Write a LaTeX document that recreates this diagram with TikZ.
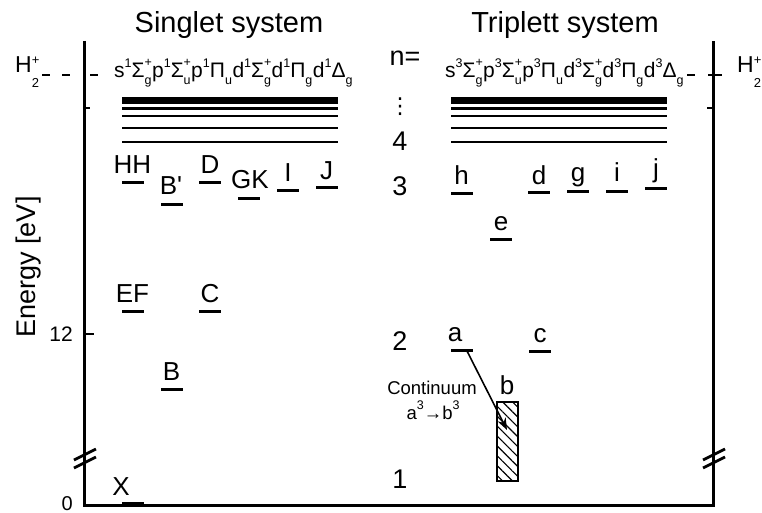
\documentclass[tikz,border=0pt]{standalone}
\usepackage{fontspec}
\setmainfont{Liberation Sans}
\newfontfamily\symfont{DejaVu Sans}
\usetikzlibrary{patterns.meta,arrows.meta,calc}

% stacked superscript / subscript of a term symbol
\newcommand\trm[2]{{\fontsize{12.5}{12.5}\selectfont\makebox[0.6em][l]{\rlap{\raisebox{11pt}{#1}}\raisebox{-7pt}{#2}}}}
% spin multiplicity
\newcommand\spn[1]{{\fontsize{12.5}{12.5}\selectfont\raisebox{10pt}{#1}}}
% molecular ion H2+
\newcommand\hion{H{\fontsize{13}{13}\selectfont\makebox[0.6em][l]{\rlap{\raisebox{8pt}{+}}\raisebox{-15pt}{2}}}}

\tikzset{
  axis/.style={line width=3pt},
  band/.style={line width=2.6pt},
  lvl/.style={fill=black, draw=none, minimum width=22pt, minimum height=3pt, inner sep=0pt},
  lab/.style={font=\fontsize{26}{26}\selectfont, inner sep=0pt, anchor=base},
  qn/.style={font=\fontsize{27}{27}\selectfont, inner sep=0pt, anchor=base},
  head/.style={font=\fontsize{29}{29}\selectfont, inner sep=0pt, anchor=base},
  term/.style={font=\fontsize{21}{21}\selectfont, inner sep=0pt, anchor=base west},
  small/.style={font=\fontsize{18.5}{18.5}\selectfont, inner sep=0pt, anchor=base},
}

\begin{document}
\begin{tikzpicture}[x=1pt,y=-1pt]
\useasboundingbox (0,0) rectangle (762,513);

% frame
\coordinate (tl) at (84,41);
\coordinate (bl) at (84,505);
\coordinate (br) at (713,505);
\coordinate (tr) at (713,41);
\draw[axis, line join=miter] (tl) -- (bl) -- (br) -- (tr);

% ticks
\draw[line width=2.5pt] (84,108) -- (90,108);
\draw[line width=2.5pt] (84,334) -- (94,334);
\draw[line width=2.5pt] (713,108) -- (707,108);

% axis breaks
\draw[line width=2.8pt] (74,460) -- (96,449);
\draw[line width=2.8pt] (74,468) -- (96,457);
\draw[line width=2.8pt] (703,460) -- (725,449);
\draw[line width=2.8pt] (703,468) -- (725,457);

% ionisation limit
\node[anchor=base west, inner sep=0pt, font=\fontsize{23}{23}\selectfont] (ionl) at (15,73) {\hion};
\node[anchor=base west, inner sep=0pt, font=\fontsize{23}{23}\selectfont] (ionr) at (737,73) {\hion};
\draw[line width=2.5pt] (42,75) -- (50,75);
\draw[line width=2.5pt] (62,75) -- (70,75);
\draw[line width=2.5pt] (90,75) -- (98,75);
\draw[line width=2.5pt] (687,75) -- (695,75);
\draw[line width=2.5pt] (708,75) -- (722,75);

% axis labels
\node[font=\fontsize{27}{27}\selectfont, rotate=90, inner sep=0pt] (ylab) at (29,267) {Energy [eV]};
\node[font=\fontsize{21}{21}\selectfont, inner sep=0pt, anchor=east] (t12) at (73,334) {12};
\node[font=\fontsize{20}{20}\selectfont, inner sep=0pt, anchor=base east] (t0) at (73,510) {0};

% headings
\node[head] (hs) at (229,33) {Singlet system};
\node[head] (ht) at (565,33) {Triplett system};

% Rydberg series
\node[term] (ts) at (114,78) {s\spn{1}Σ\trm{+}{g}p\spn{1}Σ\trm{+}{u}p\spn{1}Π\trm{}{u}d\spn{1}Σ\trm{+}{g}d\spn{1}Π\trm{}{g}d\spn{1}Δ\trm{}{g}};
\node[term] (tt) at (445,78) {s\spn{3}Σ\trm{+}{g}p\spn{3}Σ\trm{+}{u}p\spn{3}Π\trm{}{u}d\spn{3}Σ\trm{+}{g}d\spn{3}Π\trm{}{g}d\spn{3}Δ\trm{}{g}};

% high-n bands
\foreach \xa/\xb in {122/338, 451/667}{
  \fill (\xa,97.5) rectangle (\xb,104.5);
  \draw[line width=2.2pt] (\xa,108.5) -- (\xb,108.5);
  \draw[band] (\xa,116) -- (\xb,116);
  \draw[band] (\xa,128) -- (\xb,128);
  \draw[band] (\xa,142) -- (\xb,142);
}

% principal quantum numbers
\node[qn] (nq) at (405,66) {n=};
\node[inner sep=0pt, font=\symfont\fontsize{22}{22}\selectfont] (ndots) at (400,107) {⋮};
\node[qn] (n4) at (400,151) {4};
\node[qn] (n3) at (400,195) {3};
\node[qn] (n2) at (400,350) {2};
\node[qn] (n1) at (400,488) {1};

% singlet levels
\node[lvl] (HH) at (132.5,182) {};  \node[lab] (HHl) at (132.5,173) {HH};
\node[lvl] (Bp) at (171.5,204) {};  \node[lab] (Bpl) at (171,194) {B\textquotesingle};
\node[lvl] (D)  at (210,182) {};    \node[lab] (Dl)  at (210,173) {D};
\node[lvl] (GK) at (248.5,198) {};  \node[lab] (GKl) at (250,189) {GK};
\node[lvl] (I)  at (288,190) {};    \node[lab] (Il)  at (288,182) {I};
\node[lvl] (J)  at (326.5,187) {};  \node[lab] (Jl)  at (326.5,179) {J};
\node[lvl] (EF) at (132.5,311) {};  \node[lab] (EFl) at (132.5,302) {EF};
\node[lvl] (C)  at (210,311) {};    \node[lab] (Cl)  at (210,302) {C};
\node[lvl] (B)  at (171.5,389) {};  \node[lab] (Bl)  at (171.5,380) {B};
\node[lvl] (X)  at (132.5,503) {};  \node[lab] (Xl)  at (121,495) {X};

% triplet levels
\node[lvl] (h) at (461.5,193) {};   \node[lab] (hl) at (461.5,185) {h};
\node[lvl] (e) at (501,239) {};     \node[lab] (el) at (501,230) {e};
\node[lvl] (d) at (539,192) {};     \node[lab] (dl) at (539,184) {d};
\node[lvl] (g) at (578,191) {};     \node[lab] (gl) at (578,182) {g};
\node[lvl] (i) at (617,191) {};     \node[lab] (il) at (617,182) {i};
\node[lvl] (j) at (656,188) {};     \node[lab] (jl) at (656,178) {j};
\node[lvl] (a) at (462,350) {};     \node[lab] (al) at (455,341) {a};
\node[lvl] (c) at (540,351) {};     \node[lab] (cl) at (540,342) {c};

% repulsive b state continuum
\node[draw, line width=2.2pt, minimum width=21pt, minimum height=79pt, inner sep=0pt,
      pattern={Lines[angle=-45,distance=7pt,line width=1.1pt]}] (b) at (507.5,441.5) {};
\node[lab] (bl) at (507,394) {b};
\node[small] (cont) at (432,394) {Continuum};
\node[small] (trans) at (433,419) {a\spn{3}→b\spn{3}};

\coordinate (arrtail) at (467,351);
\coordinate (arrtip) at (507,430);
\draw[line width=1.6pt, -{Stealth[length=12pt,width=9pt]}] (arrtail) -- (arrtip);
\end{tikzpicture}
\end{document}
